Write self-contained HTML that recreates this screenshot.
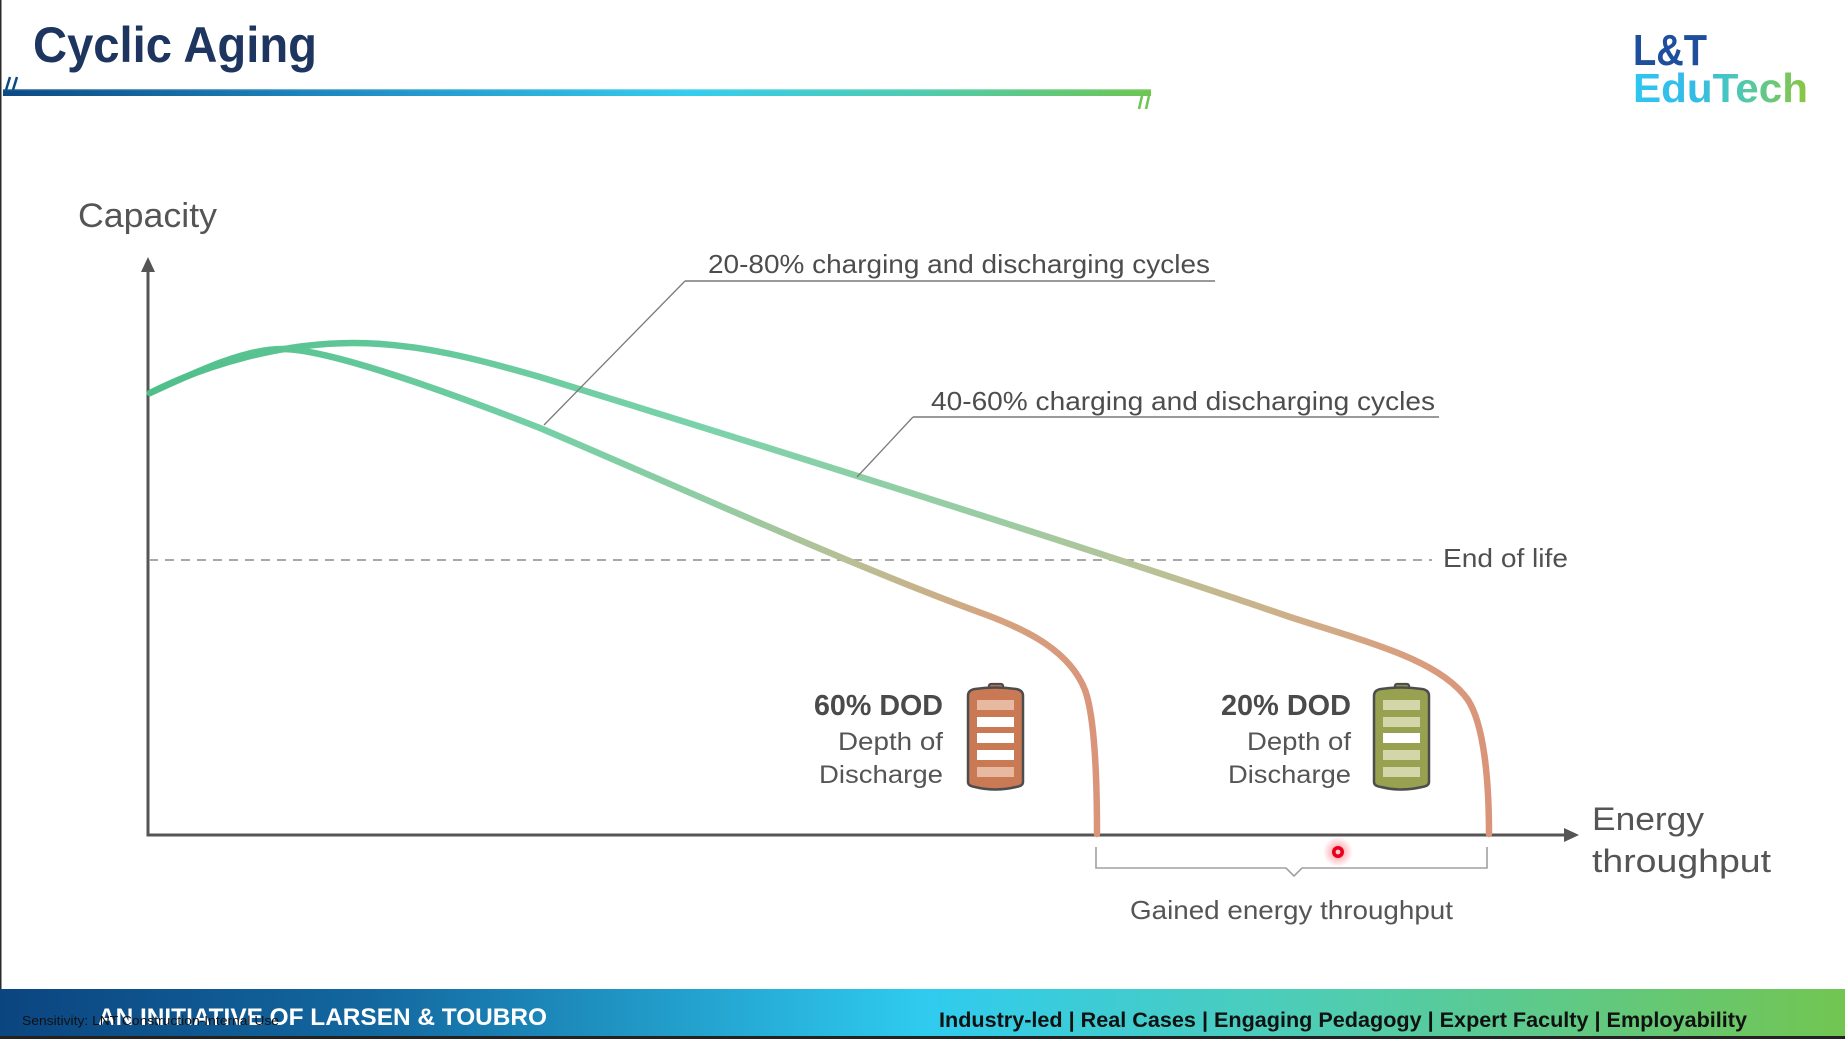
<!DOCTYPE html>
<html>
<head>
<meta charset="utf-8">
<style>
  html,body{margin:0;padding:0;background:#fff;}
  body{width:1845px;height:1039px;overflow:hidden;}
  svg{display:block;}
  text{font-family:"Liberation Sans", sans-serif;}
</style>
</head>
<body>
<svg width="1845" height="1039" viewBox="0 0 1845 1039" xmlns="http://www.w3.org/2000/svg">
  <defs>
    <linearGradient id="titleBar" gradientUnits="userSpaceOnUse" x1="3" y1="0" x2="1151" y2="0">
      <stop offset="0" stop-color="#0c4a84"/>
      <stop offset="0.3" stop-color="#1f8cc4"/>
      <stop offset="0.6" stop-color="#35cdee"/>
      <stop offset="0.8" stop-color="#4fcbaf"/>
      <stop offset="1" stop-color="#6dc552"/>
    </linearGradient>
    <linearGradient id="footBar" gradientUnits="userSpaceOnUse" x1="0" y1="0" x2="1845" y2="0">
      <stop offset="0" stop-color="#0b4580"/>
      <stop offset="0.2" stop-color="#13679f"/>
      <stop offset="0.5" stop-color="#2fcbef"/>
      <stop offset="0.7" stop-color="#4dcdb8"/>
      <stop offset="1" stop-color="#72c551"/>
    </linearGradient>
    <linearGradient id="eduGrad" gradientUnits="userSpaceOnUse" x1="1633" y1="0" x2="1808" y2="0">
      <stop offset="0" stop-color="#2ec6f0"/>
      <stop offset="0.35" stop-color="#33bce6"/>
      <stop offset="0.6" stop-color="#4cc8b6"/>
      <stop offset="1" stop-color="#8cc63f"/>
    </linearGradient>
    <linearGradient id="lowGrad" gradientUnits="userSpaceOnUse" x1="150" y1="0" x2="1097" y2="0">
      <stop offset="0" stop-color="#4fbf8a"/>
      <stop offset="0.41" stop-color="#74cfa6"/>
      <stop offset="0.6" stop-color="#93cca3"/>
      <stop offset="0.74" stop-color="#b9bf95"/>
      <stop offset="0.9" stop-color="#d6a27f"/>
      <stop offset="1" stop-color="#d9947a"/>
    </linearGradient>
    <linearGradient id="upGrad" gradientUnits="userSpaceOnUse" x1="150" y1="0" x2="1489" y2="0">
      <stop offset="0" stop-color="#4fbf8a"/>
      <stop offset="0.41" stop-color="#7ad2ab"/>
      <stop offset="0.635" stop-color="#9ccca3"/>
      <stop offset="0.747" stop-color="#b9c196"/>
      <stop offset="0.86" stop-color="#cfae88"/>
      <stop offset="0.95" stop-color="#d99c7d"/>
      <stop offset="1" stop-color="#d9947a"/>
    </linearGradient>
    <radialGradient id="glow">
      <stop offset="0" stop-color="#ff1a2e" stop-opacity="0.6"/>
      <stop offset="0.5" stop-color="#ff1a2e" stop-opacity="0.25"/>
      <stop offset="1" stop-color="#ff1a2e" stop-opacity="0"/>
    </radialGradient>
  </defs>

  <!-- left border -->
  <rect x="0" y="0" width="1.5" height="1039" fill="#2a2a2a"/>

  <!-- Title -->
  <text x="33" y="62" font-size="50" font-weight="bold" fill="#1e3560" textLength="284" lengthAdjust="spacingAndGlyphs">Cyclic Aging</text>
  <rect x="3" y="89" width="1148" height="7" fill="url(#titleBar)"/>
  <rect x="3" y="89" width="1148" height="1.2" fill="#ffffff" opacity="0.35"/>
  <line x1="10" y1="77" x2="6" y2="90" stroke="#0c4a84" stroke-width="2.5"/>
  <line x1="17" y1="77" x2="13" y2="90" stroke="#0c4a84" stroke-width="2.5"/>
  <line x1="1142" y1="96" x2="1139" y2="109" stroke="#6dc552" stroke-width="2.5"/>
  <line x1="1149" y1="96" x2="1146" y2="109" stroke="#6dc552" stroke-width="2.5"/>

  <!-- Logo -->
  <text x="1633" y="65" font-size="44" font-weight="bold" fill="#1f4e9c" textLength="74" lengthAdjust="spacingAndGlyphs">L&amp;T</text>
  <text x="1633" y="102" font-size="41" font-weight="bold" fill="url(#eduGrad)" textLength="175" lengthAdjust="spacingAndGlyphs">EduTech</text>

  <!-- Axes -->
  <text x="78" y="227" font-size="34" fill="#555555" textLength="139" lengthAdjust="spacingAndGlyphs">Capacity</text>
  <line x1="148" y1="268" x2="148" y2="836.5" stroke="#555" stroke-width="3"/>
  <polygon points="141,272 148,257 155,272" fill="#555"/>
  <line x1="146.5" y1="835" x2="1568" y2="835" stroke="#555" stroke-width="3"/>
  <polygon points="1564,828 1579,835 1564,842" fill="#555"/>

  <!-- End of life dashed -->
  <line x1="149" y1="560" x2="1432" y2="560" stroke="#a8a8a8" stroke-width="2" stroke-dasharray="9 7"/>
  <text x="1443" y="567" font-size="26" fill="#505050" textLength="125" lengthAdjust="spacingAndGlyphs">End of life</text>

  <!-- Curves -->
  <path fill="none" stroke="url(#lowGrad)" stroke-width="6.5" stroke-linecap="round"
    d="M150,393 C200,370 245,349 282,349 C330,349 450,393 540,428 C700,496 850,565 984,614 C1030,631 1070,652 1085,690 C1094,715 1097,770 1097,834"/>
  <path fill="none" stroke="url(#upGrad)" stroke-width="6.5" stroke-linecap="round"
    d="M150,393 C205,365 280,343 353,343 C420,343 480,360 540,377 C800,457 1100,552 1290,617 C1370,643 1440,660 1468,700 C1484,725 1489,780 1489,834"/>

  <!-- Labels with leaders -->
  <line x1="685" y1="281" x2="544" y2="425" stroke="#7a7a7a" stroke-width="1.3"/>
  <line x1="685" y1="281" x2="1215" y2="281" stroke="#9a9a9a" stroke-width="2"/>
  <text x="708" y="273" font-size="26" fill="#4d4d4d" textLength="502" lengthAdjust="spacingAndGlyphs">20-80% charging and discharging cycles</text>

  <line x1="913" y1="417" x2="857" y2="477" stroke="#7a7a7a" stroke-width="1.3"/>
  <line x1="913" y1="417" x2="1439" y2="417" stroke="#9a9a9a" stroke-width="2"/>
  <text x="931" y="410" font-size="26" fill="#4d4d4d" textLength="504" lengthAdjust="spacingAndGlyphs">40-60% charging and discharging cycles</text>

  <!-- 60% DOD -->
  <text x="943" y="715" font-size="29" font-weight="bold" fill="#4a4a4a" text-anchor="end" textLength="129" lengthAdjust="spacingAndGlyphs">60% DOD</text>
  <text x="943" y="750" font-size="25" fill="#555" text-anchor="end" textLength="105" lengthAdjust="spacingAndGlyphs">Depth of</text>
  <text x="943" y="783" font-size="25" fill="#555" text-anchor="end" textLength="124" lengthAdjust="spacingAndGlyphs">Discharge</text>

  <!-- Battery 1 -->
  <g>
    <rect x="989" y="684" width="14" height="8" rx="2" fill="#c97a55" stroke="#4d4d4d" stroke-width="2.2"/>
    <path d="M968,696 Q968,690 975,689 Q995,686 1016,689 Q1023,690 1023,696 V782 Q1023,786 1016,787 Q995,792 975,787 Q968,786 968,782 Z" fill="#c97a55" stroke="#4d4d4d" stroke-width="2.5"/>
    <rect x="977" y="700" width="37" height="10" fill="#e6b9a0"/>
    <rect x="977" y="717" width="37" height="10" fill="#ffffff"/>
    <rect x="977" y="733" width="37" height="10" fill="#ffffff"/>
    <rect x="977" y="750" width="37" height="10" fill="#ffffff"/>
    <rect x="977" y="767" width="37" height="10" fill="#e6b9a0"/>
  </g>

  <!-- 20% DOD -->
  <text x="1351" y="715" font-size="29" font-weight="bold" fill="#4a4a4a" text-anchor="end" textLength="130" lengthAdjust="spacingAndGlyphs">20% DOD</text>
  <text x="1351" y="750" font-size="25" fill="#555" text-anchor="end" textLength="104" lengthAdjust="spacingAndGlyphs">Depth of</text>
  <text x="1351" y="783" font-size="25" fill="#555" text-anchor="end" textLength="123" lengthAdjust="spacingAndGlyphs">Discharge</text>

  <!-- Battery 2 -->
  <g transform="translate(406,0)">
    <rect x="989" y="684" width="14" height="8" rx="2" fill="#97a14f" stroke="#4d4d4d" stroke-width="2.2"/>
    <path d="M968,696 Q968,690 975,689 Q995,686 1016,689 Q1023,690 1023,696 V782 Q1023,786 1016,787 Q995,792 975,787 Q968,786 968,782 Z" fill="#97a14f" stroke="#4d4d4d" stroke-width="2.5"/>
    <rect x="977" y="700" width="37" height="10" fill="#d2d6a9"/>
    <rect x="977" y="717" width="37" height="10" fill="#d2d6a9"/>
    <rect x="977" y="733" width="37" height="10" fill="#ffffff"/>
    <rect x="977" y="750" width="37" height="10" fill="#d2d6a9"/>
    <rect x="977" y="767" width="37" height="10" fill="#d2d6a9"/>
  </g>

  <!-- Energy throughput -->
  <text x="1592" y="830" font-size="32" fill="#555" textLength="112" lengthAdjust="spacingAndGlyphs">Energy</text>
  <text x="1592" y="872" font-size="32" fill="#555" textLength="179" lengthAdjust="spacingAndGlyphs">throughput</text>

  <!-- Bracket -->
  <path d="M1096,847 V868 H1286 L1294,876 L1302,868 H1487 V847" fill="none" stroke="#a0a0a0" stroke-width="1.6"/>
  <text x="1130" y="919" font-size="26" fill="#555" textLength="323" lengthAdjust="spacingAndGlyphs">Gained energy throughput</text>

  <!-- red pointer -->
  <circle cx="1338" cy="852" r="15" fill="url(#glow)"/>
  <circle cx="1338" cy="852" r="6" fill="#e6001c"/>
  <circle cx="1338" cy="852" r="2.4" fill="#ffc6cc"/>

  <!-- Footer -->
  <rect x="0" y="989" width="1845" height="48" fill="url(#footBar)"/>
  <rect x="0" y="1036" width="1845" height="3" fill="#222"/>
  <text x="98" y="1025" font-size="24" font-weight="bold" fill="#ffffff" textLength="449" lengthAdjust="spacingAndGlyphs">AN INITIATIVE OF LARSEN &amp; TOUBRO</text>
  <text x="22" y="1025" font-size="13" fill="#111" textLength="257" lengthAdjust="spacingAndGlyphs">Sensitivity: LNT Construction-Internal Use</text>
  <text x="939" y="1027" font-size="21" font-weight="bold" fill="#111" textLength="808" lengthAdjust="spacingAndGlyphs">Industry-led | Real Cases | Engaging Pedagogy | Expert Faculty | Employability</text>
</svg>
</body>
</html>
